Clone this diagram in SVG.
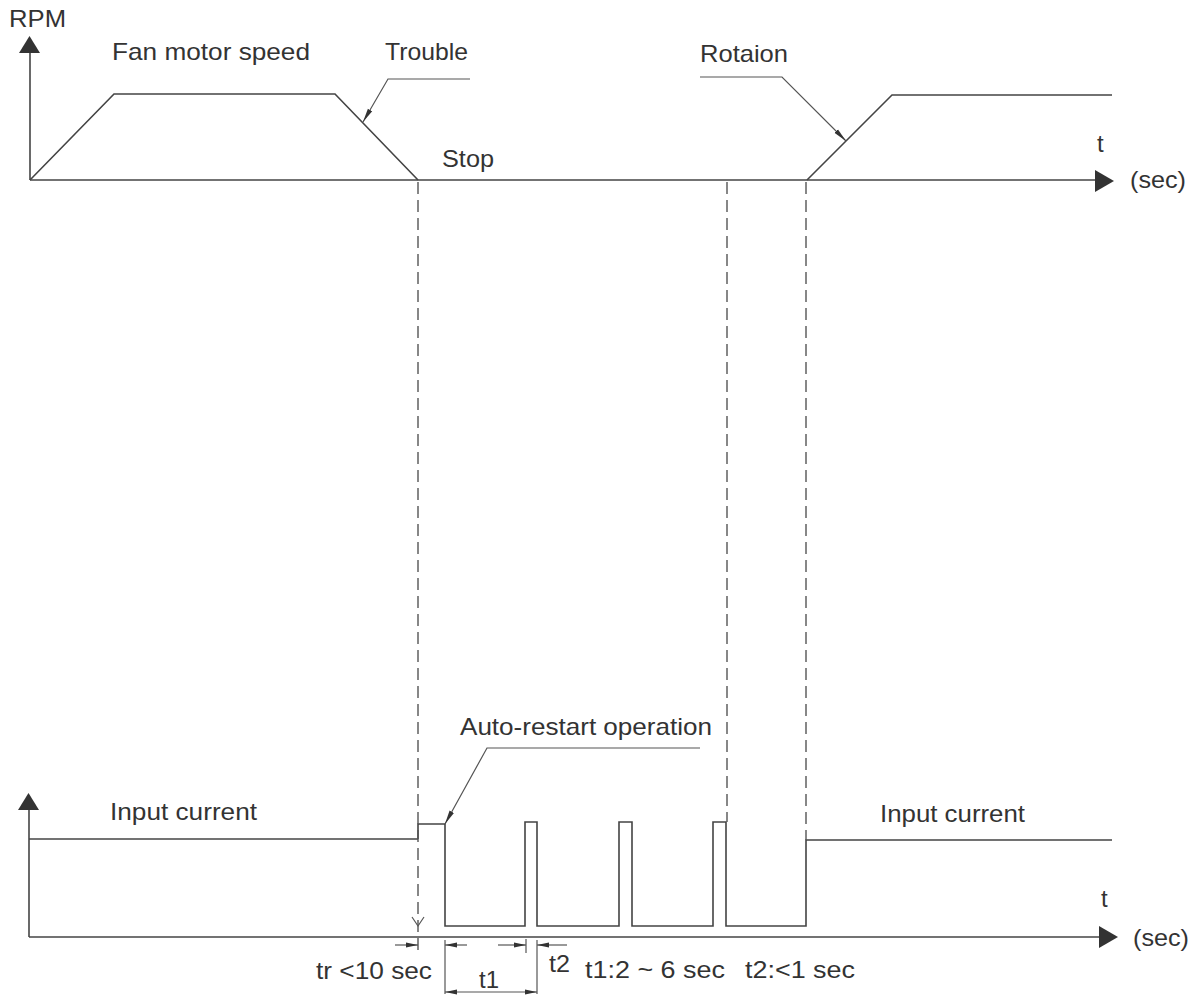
<svg xmlns="http://www.w3.org/2000/svg" width="1202" height="995" viewBox="0 0 1202 995">
<style>
.ln{fill:none;stroke:#444;stroke-width:1.6}
.dash{fill:none;stroke:#555;stroke-width:1.4;stroke-dasharray:12 6}
.thin{fill:none;stroke:#555;stroke-width:1.2}
.tx{font-family:"Liberation Sans",Arial,sans-serif;font-size:24px;fill:#333}
.head{fill:#333}
</style>
<defs>
<marker id="lead" viewBox="0 0 14 6" refX="14" refY="3" markerWidth="14" markerHeight="6" markerUnits="userSpaceOnUse" orient="auto"><path d="M0,0.5 L14,3 L0,5.5 Z" fill="#333"/></marker>
<marker id="dim" viewBox="0 0 12 6" refX="12" refY="3" markerWidth="12" markerHeight="6" markerUnits="userSpaceOnUse" orient="auto"><path d="M0,0.5 L12,3 L0,5.5 Z" fill="#333"/></marker>
</defs>
<rect width="1202" height="995" fill="#fff"/>

<g id="top-axes">
<line class="ln" x1="30" y1="180" x2="30" y2="52"/>
<polygon class="head" points="19,53 40,53 29.5,36"/>
<line class="ln" x1="30" y1="180" x2="1097" y2="180"/>
<polygon class="head" points="1095,170 1095,192 1114,181"/>
<text class="tx" x="9" y="27" textLength="57" lengthAdjust="spacingAndGlyphs">RPM</text>
<text class="tx" x="1097" y="152">t</text>
<text class="tx" x="1130" y="188" textLength="56" lengthAdjust="spacingAndGlyphs">(sec)</text>
</g>

<g id="fan-speed">
<polyline class="ln" points="30,180 114,94 335,94 418,180"/>
<polyline class="ln" points="807,180 892,95 1112,95"/>
<text class="tx" x="112" y="60" textLength="198" lengthAdjust="spacingAndGlyphs">Fan motor speed</text>
<text class="tx" x="442" y="167" textLength="52" lengthAdjust="spacingAndGlyphs">Stop</text>
</g>

<g id="trouble">
<text class="tx" x="385" y="60" textLength="83" lengthAdjust="spacingAndGlyphs">Trouble</text>
</g>

<g id="rotaion">
<text class="tx" x="700" y="62" textLength="88" lengthAdjust="spacingAndGlyphs">Rotaion</text>
</g>

<g id="bottom-axes">
<line class="ln" x1="29" y1="937" x2="29" y2="808"/>
<polygon class="head" points="18,810 39,810 28.5,793"/>
<line class="ln" x1="29" y1="937" x2="1101" y2="937"/>
<polygon class="head" points="1099,926 1099,948 1118,937"/>
<text class="tx" x="1101" y="907">t</text>
<text class="tx" x="1133" y="946" textLength="56" lengthAdjust="spacingAndGlyphs">(sec)</text>
</g>

<g id="input-current">
<line class="ln" x1="29" y1="839" x2="418" y2="839"/>
<polyline class="ln" points="418,839 418,824 445,824 445,926 525,926 525,822 537,822 537,926 619,926 619,822 632,822 632,926 713,926 713,822 726,822 726,926 806,926 806,840 1112,840"/>
<text class="tx" x="110" y="820" textLength="147" lengthAdjust="spacingAndGlyphs">Input current</text>
<text class="tx" x="880" y="822" textLength="145" lengthAdjust="spacingAndGlyphs">Input current</text>
</g>

<g id="auto-restart">
<text class="tx" x="460" y="735" textLength="252" lengthAdjust="spacingAndGlyphs">Auto-restart operation</text>
</g>

<g id="dimensions">
<text class="tx" x="316" y="979" textLength="116" lengthAdjust="spacingAndGlyphs">tr &lt;10 sec</text>
<text class="tx" x="479" y="988" textLength="20" lengthAdjust="spacingAndGlyphs">t1</text>
<text class="tx" x="549" y="972" textLength="21" lengthAdjust="spacingAndGlyphs">t2</text>
<text class="tx" x="585" y="978" textLength="140" lengthAdjust="spacingAndGlyphs">t1:2 ~ 6 sec</text>
<text class="tx" x="745" y="978" textLength="110" lengthAdjust="spacingAndGlyphs">t2:&lt;1 sec</text>
</g>

<g id="connectors">
<polyline class="thin" points="470,79 388,79 363,122" marker-end="url(#lead)"/>
<polyline class="thin" points="700,77 782,77 846,141" marker-end="url(#lead)"/>
<polyline class="thin" points="700,748 487,748 445,824" marker-end="url(#lead)"/>
<line class="dash" x1="418" y1="182" x2="418" y2="954"/>
<line class="dash" x1="727" y1="182" x2="727" y2="822"/>
<line class="dash" x1="806" y1="182" x2="806" y2="840"/>
<polyline class="thin" points="412,917 418,926 424,917"/>
<line class="thin" x1="395" y1="945" x2="418" y2="945" marker-end="url(#dim)"/>
<line class="thin" x1="467" y1="945" x2="445" y2="945" marker-end="url(#dim)"/>
<line class="thin" x1="498" y1="945" x2="526" y2="945" marker-end="url(#dim)"/>
<line class="thin" x1="567" y1="945" x2="537" y2="945" marker-end="url(#dim)"/>
<line class="thin" x1="445" y1="940" x2="445" y2="994"/>
<line class="thin" x1="537" y1="940" x2="537" y2="994"/>
<line class="thin" x1="526" y1="939" x2="526" y2="953"/>
<line class="thin" x1="491" y1="992" x2="445" y2="992" marker-end="url(#dim)"/>
<line class="thin" x1="491" y1="992" x2="537" y2="992" marker-end="url(#dim)"/>
</g>
</svg>
